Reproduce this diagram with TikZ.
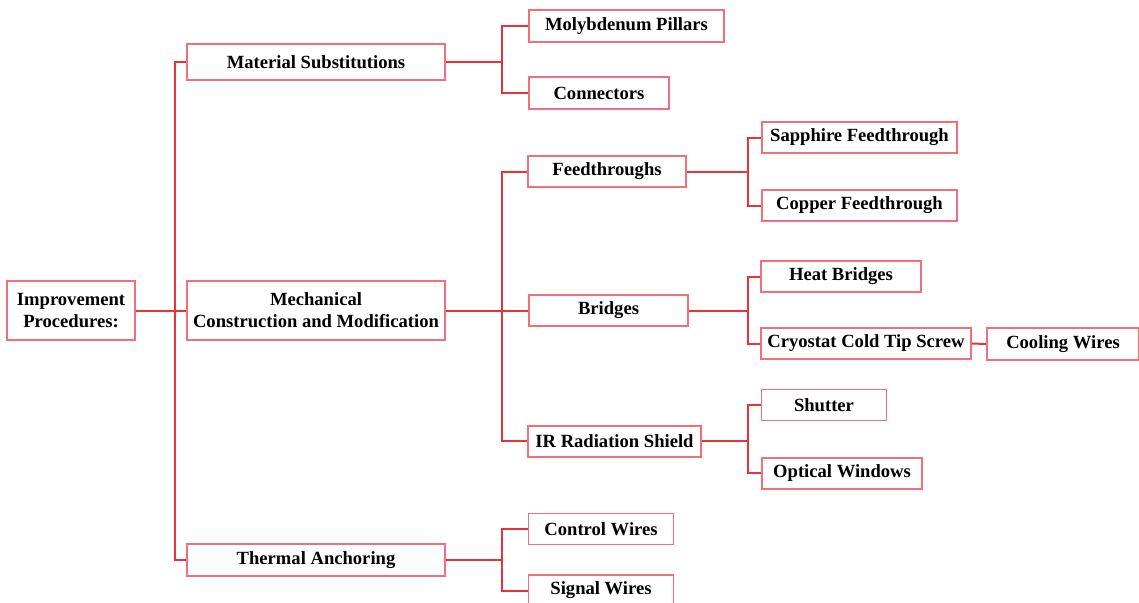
\documentclass[tikz,border=0pt]{standalone}
\usepackage{fontspec}
\setmainfont{Liberation Serif}
\definecolor{linered}{RGB}{232,50,60}
\definecolor{boxred}{RGB}{240,112,122}
\begin{document}
\begin{tikzpicture}[x=1pt,y=-1pt,
  box/.style={draw=boxred, line width=1.7pt, fill=white, align=center, inner sep=0pt,
    font=\fontsize{18.6}{22}\selectfont\bfseries},
  link/.style={draw=linered, line width=2pt}]
\useasboundingbox (0,0) rectangle (1139,602);
\clip (0,0) rectangle (1139,602);
\fill[white] (0,0) rectangle (1139,602);
% nodes
\node[box, minimum width=128pt, minimum height=59pt] (root) at (71,310.5) {Improvement\\Procedures:};
\node[box, minimum width=258pt, minimum height=36pt] (mat) at (316,62) {Material Substitutions};
\node[box, minimum width=258pt, minimum height=59pt] (mech) at (316,310.5) {Mechanical\\Construction and Modification};
\node[box, minimum width=258pt, minimum height=32pt] (therm) at (316,560) {Thermal Anchoring};
\node[box, minimum width=195pt, minimum height=32pt] (moly) at (626.5,26) {Molybdenum Pillars};
\node[box, minimum width=140pt, minimum height=32pt] (conn) at (599,93) {Connectors};
\node[box, minimum width=158pt, minimum height=31pt] (feed) at (607,171.5) {Feedthroughs};
\node[box, minimum width=159pt, minimum height=31pt] (bridges) at (608.5,310.5) {Bridges};
\node[box, minimum width=173pt, minimum height=31pt] (ir) at (614.5,441.3) {IR Radiation Shield};
\node[box, minimum width=145pt, minimum height=31pt] (control) at (601,529) {Control Wires};
\node[box, minimum width=145pt, minimum height=31pt] (signal) at (601,590.5) {Signal Wires};
\node[box, minimum width=195pt, minimum height=31pt] (sapph) at (859.5,137.5) {Sapphire Feedthrough};
\node[box, minimum width=195pt, minimum height=31pt] (copper) at (859.5,205.5) {Copper Feedthrough};
\node[box, minimum width=160pt, minimum height=31pt] (heat) at (841,276.5) {Heat Bridges};
\node[box, minimum width=210pt, minimum height=31pt] (cryo) at (866,343.5) {Cryostat Cold Tip Screw};
\node[box, minimum width=152pt, minimum height=32pt] (cool) at (1063,344) {Cooling Wires};
\node[box, minimum width=125pt, minimum height=31pt] (shutter) at (824,405) {Shutter};
\node[box, minimum width=160pt, minimum height=31pt] (optical) at (842,473.3) {Optical Windows};
% connectors
\draw[link] (root.east) -- ++(39,0) |- (mat.west);
\draw[link] (root.east) -- (mech.west);
\draw[link] (root.east) -- ++(39,0) |- (therm.west);
\draw[link] (mat.east) -- ++(56,0) |- (moly.west);
\draw[link] (mat.east) -- ++(56,0) |- (conn.west);
\draw[link] (mech.east) -- ++(56,0) |- (feed.west);
\draw[link] (mech.east) -- (bridges.west);
\draw[link] (mech.east) -- ++(56,0) |- (ir.west);
\draw[link] (therm.east) -- ++(56,0) |- (control.west);
\draw[link] (therm.east) -- ++(56,0) |- (signal.west);
\draw[link] (feed.east) -- ++(61,0) |- (sapph.west);
\draw[link] (feed.east) -- ++(61,0) |- (copper.west);
\draw[link] (bridges.east) -- ++(59,0) |- (heat.west);
\draw[link] (bridges.east) -- ++(59,0) |- (cryo.west);
\draw[link] (cryo.east) -- (cool.west);
\draw[link] (ir.east) -- ++(46,0) |- (shutter.west);
\draw[link] (ir.east) -- ++(46,0) |- (optical.west);
\end{tikzpicture}
\end{document}
